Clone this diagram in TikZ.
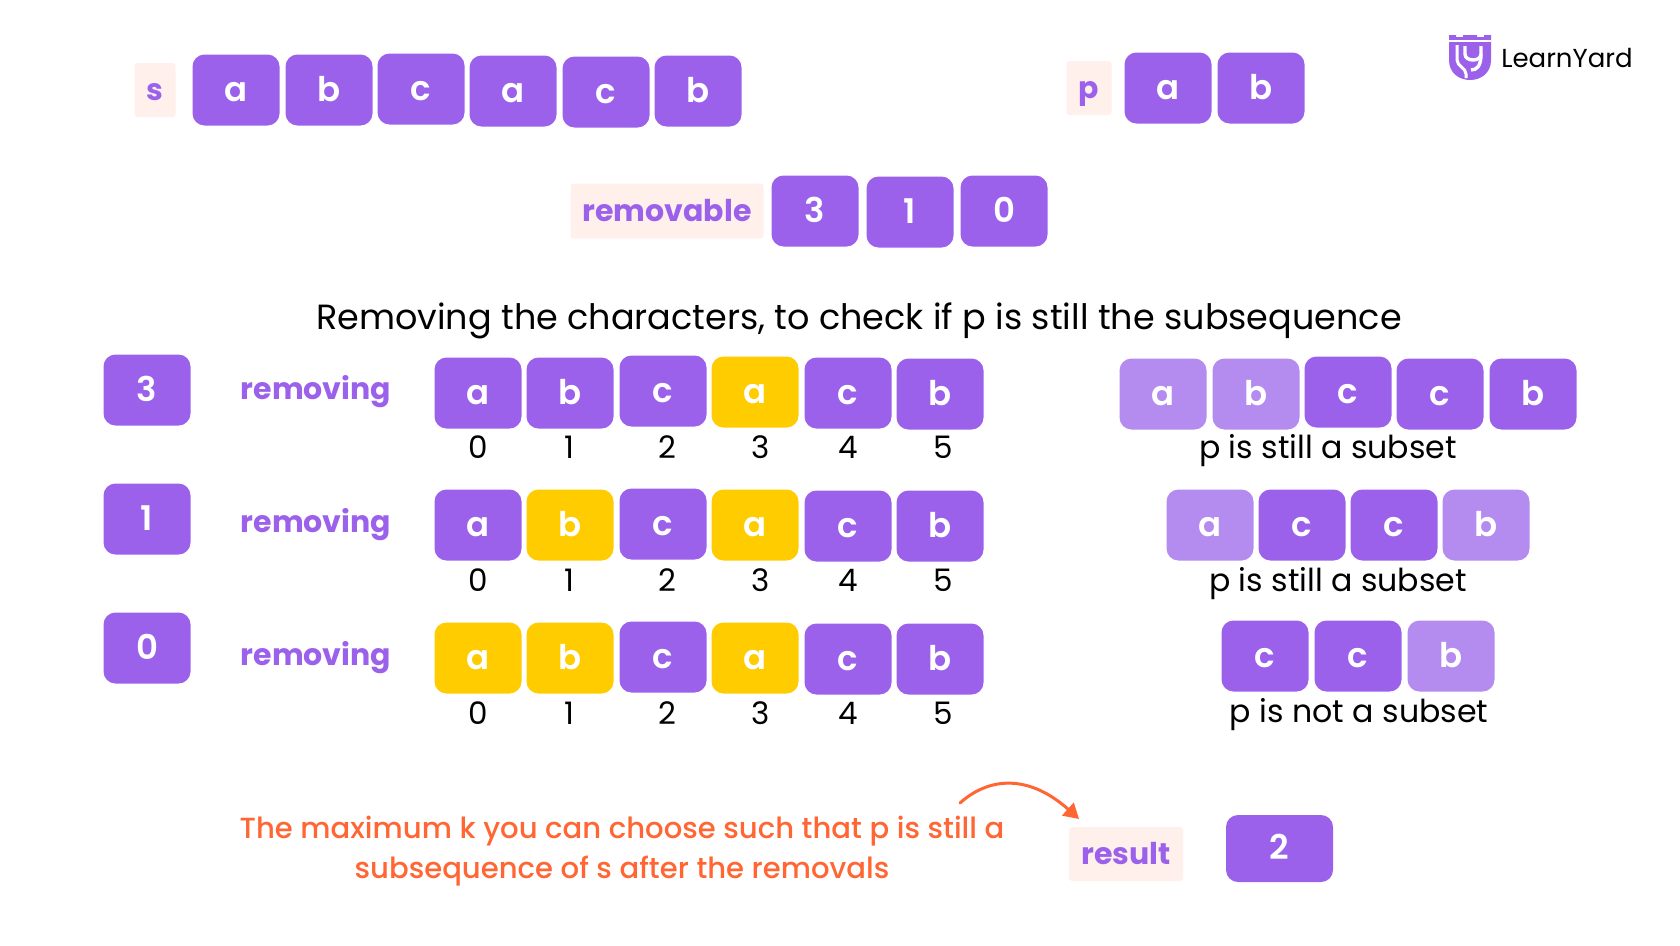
\documentclass[tikz,border=0pt]{standalone}
\usepackage{fontspec}
\usetikzlibrary{arrows.meta}
\setmainfont{Poppins}
\newfontfamily\semifont{Poppins SemiBold}
\newfontfamily\mediumfont{Poppins Medium}
\definecolor{cellpurple}{HTML}{9B61EB}
\definecolor{cellfaded}{HTML}{B48CEF}
\definecolor{cellyellow}{HTML}{FFCC00}
\definecolor{tagbg}{HTML}{FFF0EB}
\definecolor{noteorange}{HTML}{FF6633}
\tikzset{
  cell/.style={fill=cellpurple, rounded corners=12pt, minimum width=87pt, minimum height=71pt,
    inner sep=0pt, text=white, font=\fontsize{34}{34}\selectfont\semifont, text height=22pt, text depth=0pt},
  faded/.style={cell, fill=cellfaded},
  picked/.style={cell, fill=cellyellow},
  tag/.style={fill=tagbg, rounded corners=3pt, inner sep=0pt, text=cellpurple,
    font=\fontsize{30}{30}\selectfont\bfseries, text height=20pt, text depth=0pt},
  rowname/.style={text=cellpurple, inner sep=0pt, font=\fontsize{30}{30}\selectfont\bfseries},
  idx/.style={inner sep=0pt, font=\fontsize{31}{31}\selectfont, text height=22pt, text depth=0pt},
  verdict/.style={inner sep=0pt, font=\fontsize{31.6}{32}\selectfont},
  note/.style={inner sep=0pt, text=noteorange, font=\fontsize{29.1}{30}\selectfont\mediumfont}
}
\begin{document}
\begin{tikzpicture}[x=1pt,y=-1pt]
\useasboundingbox (0,0) rectangle (1680,945);
%% input string s
\node[tag, minimum width=41pt, minimum height=54pt] (stag) at (155,90) {s};
\node[cell] (s0) at (236,90) {a};
\node[cell] (s1) at (329,90) {b};
\node[cell] (s2) at (421,89) {c};
\node[cell] (s3) at (513,91) {a};
\node[cell] (s4) at (606,92) {c};
\node[cell] (s5) at (698,91) {b};
%% pattern p
\node[tag, minimum width=45pt, minimum height=54pt] (ptag) at (1089,88) {p};
\node[cell] (p0) at (1168,88) {a};
\node[cell] (p1) at (1261,88) {b};
%% removable array
\node[tag, minimum width=193pt, minimum height=55pt] (rtag) at (667,211) {removable};
\node[cell] (r0) at (815,211) {3};
\node[cell] (r1) at (910,212) {1};
\node[cell] (r2) at (1004,211) {0};
%% heading
\node[inner sep=0pt, font=\fontsize{35}{35}\selectfont] (heading) at (859,321) {Removing the characters, to check if p is still the subsequence};
%% first removal
\node[cell] (k0) at (147,390) {3};
\node[rowname] (name0) at (316,392) {removing};
\node[cell] (a0) at (478,393) {a};
\node[cell] (a1) at (570,393) {b};
\node[cell] (a2) at (663,391) {c};
\node[picked] (a3) at (755,392) {a};
\node[cell] (a4) at (848,393) {c};
\node[cell] (a5) at (940,394) {b};
\node[idx] (ai0) at (478,447) {0};
\node[idx] (ai1) at (569,447) {1};
\node[idx] (ai2) at (667,447) {2};
\node[idx] (ai3) at (761,447) {3};
\node[idx] (ai4) at (848,447) {4};
\node[idx] (ai5) at (943,447) {5};
\node[faded] (x0) at (1163,394) {a};
\node[faded] (x1) at (1256,394) {b};
\node[cell] (x2) at (1348,392) {c};
\node[cell] (x3) at (1440,394) {c};
\node[cell] (x4) at (1533,394) {b};
\node[verdict] (v0) at (1328,451) {p is still a subset};
%% second removal
\node[cell] (k1) at (147,519) {1};
\node[rowname] (name1) at (316,525) {removing};
\node[cell] (b0) at (478,525) {a};
\node[picked] (b1) at (570,525) {b};
\node[cell] (b2) at (663,524) {c};
\node[picked] (b3) at (755,525) {a};
\node[cell] (b4) at (848,526) {c};
\node[cell] (b5) at (940,526) {b};
\node[idx] (bi0) at (478,580) {0};
\node[idx] (bi1) at (569,580) {1};
\node[idx] (bi2) at (667,580) {2};
\node[idx] (bi3) at (761,580) {3};
\node[idx] (bi4) at (848,580) {4};
\node[idx] (bi5) at (943,580) {5};
\node[faded] (y0) at (1210,525) {a};
\node[cell] (y1) at (1302,525) {c};
\node[cell] (y2) at (1394,525) {c};
\node[faded] (y3) at (1486,525) {b};
\node[verdict] (v1) at (1338,584) {p is still a subset};
%% third removal
\node[cell] (k2) at (147,648) {0};
\node[rowname] (name2) at (316,658) {removing};
\node[picked] (c0) at (478,658) {a};
\node[picked] (c1) at (570,658) {b};
\node[cell] (c2) at (663,657) {c};
\node[picked] (c3) at (755,658) {a};
\node[cell] (c4) at (848,659) {c};
\node[cell] (c5) at (940,659) {b};
\node[idx] (ci0) at (478,713) {0};
\node[idx] (ci1) at (569,713) {1};
\node[idx] (ci2) at (667,713) {2};
\node[idx] (ci3) at (761,713) {3};
\node[idx] (ci4) at (848,713) {4};
\node[idx] (ci5) at (943,713) {5};
\node[cell] (z0) at (1265,656) {c};
\node[cell] (z1) at (1358,656) {c};
\node[faded] (z2) at (1451,656) {b};
\node[verdict] (v2) at (1359,715) {p is not a subset};
%% result with its note
\node[note] (note1) at (622,831) {The maximum k you can choose such that p is still a};
\node[note] (note2) at (622,871) {subsequence of s after the removals};
\node[tag, minimum width=114pt, minimum height=54pt] (restag) at (1126,854) {result};
\node[cell, minimum width=107pt, minimum height=67pt] (res) at (1279.5,848.5) {2};
\coordinate (bend) at (960,803);
\coordinate (arrowend) at (1079,819);
\draw[noteorange, line width=3pt, line cap=round, -{Triangle[length=15pt,width=17pt]}] (bend) .. controls (990,776) and (1030,775) .. (arrowend);
%% logo
\fill[cellpurple] (1449,35) -- (1456,35) -- (1456,37) -- (1463,37) -- (1463,35) -- (1477,35) -- (1477,37) -- (1484,37) -- (1484,35) -- (1491,35) -- (1491,60) .. controls (1491,73) and (1481,80) .. (1470,80) .. controls (1459,80) and (1449,73) .. (1449,60) -- cycle;
\draw[white, line width=2.4pt] (1449,41) -- (1491,41);
\draw[white, line width=3pt] (1457,45) -- (1457,60) .. controls (1457,66) and (1466,68) .. (1466,74) -- (1466,78);
\draw[white, line width=3.4pt] (1465,46) -- (1465,54) .. controls (1465,62) and (1481,62) .. (1481,54) -- (1481,46);
\draw[white, line width=3.4pt] (1481,54) .. controls (1481,66) and (1477,70) .. (1471,70);
\node[inner sep=0pt, font=\fontsize{26}{26}\selectfont] (logo) at (1567,58) {LearnYard};
\end{tikzpicture}
\end{document}
